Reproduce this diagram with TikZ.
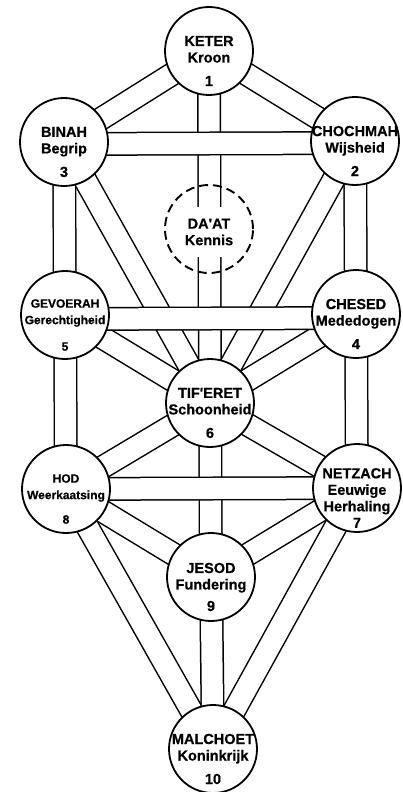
\documentclass[tikz,border=0pt]{standalone}
\usepackage{fontspec}
\setmainfont{Liberation Sans}
\newfontfamily\boomfont{Liberation Sans}[FakeBold=0.6]

\begin{document}
\begin{tikzpicture}[x=1pt,y=-1pt,%%
  pathStyle/.style={-,line width=1.5pt,double=white,double distance=21pt},%%
  sefiraStyle/.style={circle,draw,line width=1.8pt,fill=white,minimum size=88pt,inner sep=0pt},%%
  daatStyle/.style={circle,draw,line width=1.9pt,dash pattern=on 9pt off 5pt,minimum size=88pt,inner sep=0pt},%%
  labelStyle/.style={align=center,inner sep=0pt,yshift=-10pt,font=\boomfont\bfseries\fontsize{14.5}{16.5}\selectfont},%%
  smallStyle/.style={labelStyle,font=\boomfont\bfseries\fontsize{12}{16.5}\selectfont},%%
  daatLabelStyle/.style={labelStyle,fill=white,inner xsep=3pt,inner ysep=12pt,yshift=7pt}%%
]
%%
\useasboundingbox (0,0) rectangle (403,792);
%%
%% The centres of the ten sefirot and of Da'at.
\coordinate (keter) at (209,51);
\coordinate (binah) at (64,142);
\coordinate (chochmah) at (355,141);
\coordinate (daat) at (209,229);
\coordinate (gevoerah) at (65,315);
\coordinate (chesed) at (356,314);
\coordinate (tiferet) at (210,403);
\coordinate (hod) at (66,489);
\coordinate (netzach) at (357,488);
\coordinate (jesod) at (211,577);
\coordinate (malchoet) at (213,749);
%%
%% The slanting and upright paths.  Must come first.
\draw[pathStyle] (keter) -- (binah);
\draw[pathStyle] (keter) -- (chochmah);
\draw[pathStyle] (keter) -- (tiferet);
\draw[pathStyle] (binah) -- (gevoerah);
\draw[pathStyle] (binah) -- (tiferet);
\draw[pathStyle] (chochmah) -- (chesed);
\draw[pathStyle] (chochmah) -- (tiferet);
\draw[pathStyle] (gevoerah) -- (tiferet);
\draw[pathStyle] (gevoerah) -- (hod);
\draw[pathStyle] (chesed) -- (tiferet);
\draw[pathStyle] (chesed) -- (netzach);
\draw[pathStyle] (tiferet) -- (hod);
\draw[pathStyle] (tiferet) -- (netzach);
\draw[pathStyle] (tiferet) -- (jesod);
\draw[pathStyle] (hod) -- (jesod);
\draw[pathStyle] (netzach) -- (jesod);
\draw[pathStyle] (hod) -- (malchoet);
\draw[pathStyle] (netzach) -- (malchoet);
\draw[pathStyle] (jesod) -- (malchoet);
%%
%% The three level paths lie over the others.
\draw[pathStyle] ([yshift=-2pt]binah) -- ([yshift=-2pt]chochmah);
\draw[pathStyle] ([yshift=-4pt]gevoerah) -- ([yshift=-4pt]chesed);
\draw[pathStyle] (hod) -- (netzach);
%%
%% The circles.
\node[sefiraStyle] (keterBol) at (keter) {};
\node[sefiraStyle] (binahBol) at (binah) {};
\node[sefiraStyle] (chochmahBol) at (chochmah) {};
\node[sefiraStyle] (gevoerahBol) at (gevoerah) {};
\node[sefiraStyle] (chesedBol) at (chesed) {};
\node[sefiraStyle] (tiferetBol) at (tiferet) {};
\node[sefiraStyle] (hodBol) at (hod) {};
\node[sefiraStyle] (netzachBol) at (netzach) {};
\node[sefiraStyle] (jesodBol) at (jesod) {};
\node[sefiraStyle] (malchoetBol) at (malchoet) {};
%%
%% Da'at hides the middle of the path from Keter.
\node[daatLabelStyle] (daatTekst) at (daat) {DA'AT\\Kennis};
\node[daatStyle] (daatBol) at (daat) {};
%%
%% The names.
\node[labelStyle] (keterTekst) at (keter) {KETER\\Kroon\\[7pt]1};
\node[labelStyle] (binahTekst) at (binah) {BINAH\\Begrip\\[7pt]3};
\node[labelStyle] (chochmahTekst) at (chochmah) {CHOCHMAH\\Wijsheid\\[7pt]2};
\node[smallStyle] (gevoerahTekst) at (gevoerah) {GEVOERAH\\Gerechtigheid\\[10pt]5};
\node[labelStyle] (chesedTekst) at (chesed) {CHESED\\Mededogen\\[7pt]4};
\node[labelStyle] (tiferetTekst) at (tiferet) {TIF'ERET\\Schoonheid\\[7pt]6};
\node[smallStyle] (hodTekst) at (hod) {HOD\\Weerkaatsing\\[8pt]8};
\node[labelStyle] (netzachTekst) at (netzach) {NETZACH\\Eeuwige\\Herhaling\\7};
\node[labelStyle] (jesodTekst) at (jesod) {JESOD\\Fundering\\[5pt]9};
\node[labelStyle] (malchoetTekst) at (malchoet) {MALCHOET\\Koninkrijk\\[7pt]10};
\end{tikzpicture}
\end{document}
